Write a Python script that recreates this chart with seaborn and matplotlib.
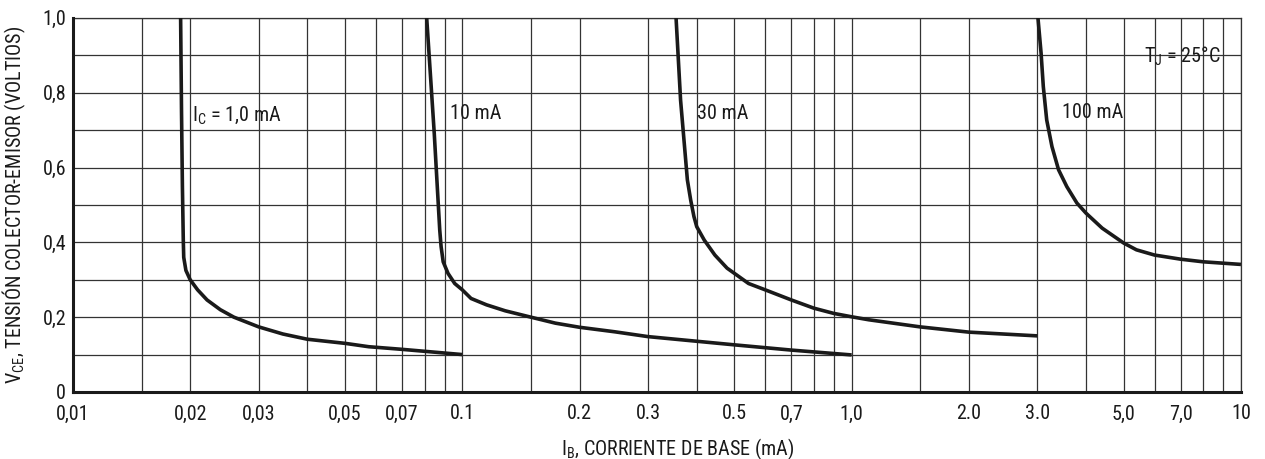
import numpy as np
import pandas as pd
import matplotlib
matplotlib.use("Agg")
import matplotlib.pyplot as plt
from matplotlib import font_manager
from matplotlib.ticker import FixedLocator, FixedFormatter, NullFormatter
import seaborn as sns

# ---- data ----
ib_1mA = [0.0189, 0.0190, 0.0191, 0.0192, 0.01925, 0.0195, 0.0200, 0.0209, 0.0221, 0.0239,
          0.0259, 0.030, 0.0346, 0.040, 0.050, 0.0575, 0.070, 0.100]
vce_1mA = [1.00, 0.75, 0.55, 0.406, 0.360, 0.325, 0.300, 0.273, 0.246, 0.220,
           0.200, 0.174, 0.155, 0.141, 0.130, 0.121, 0.114, 0.100]

ib_10mA = [0.0810, 0.0847, 0.0875, 0.0882, 0.0893, 0.0919, 0.0956, 0.100, 0.1053, 0.1154,
           0.1289, 0.150, 0.1734, 0.200, 0.246, 0.300, 0.500, 0.700, 1.000]
vce_10mA = [1.00, 0.692, 0.433, 0.389, 0.348, 0.317, 0.290, 0.273, 0.250, 0.233,
            0.217, 0.200, 0.184, 0.173, 0.161, 0.148, 0.126, 0.112, 0.099]

ib_30mA = [0.354, 0.3636, 0.3785, 0.386, 0.3935, 0.400, 0.4183, 0.4454, 0.4787, 0.500,
           0.5435, 0.600, 0.700, 0.800, 0.900, 1.00, 1.107, 1.50, 2.00, 3.00]
vce_30mA = [1.00, 0.780, 0.567, 0.513, 0.469, 0.442, 0.406, 0.366, 0.331, 0.317,
            0.290, 0.273, 0.246, 0.224, 0.210, 0.201, 0.193, 0.174, 0.160, 0.150]

ib_100mA = [3.01, 3.066, 3.107, 3.17, 3.27, 3.40, 3.57, 3.79, 4.00, 4.40,
            5.00, 5.39, 6.00, 7.00, 8.00, 10.0]
vce_100mA = [1.00, 0.906, 0.816, 0.727, 0.656, 0.594, 0.549, 0.505, 0.478, 0.438,
             0.398, 0.380, 0.366, 0.355, 0.348, 0.341]

x_major = [0.01, 0.02, 0.03, 0.05, 0.07, 0.1, 0.2, 0.3, 0.5, 0.7, 1.0, 2.0, 3.0, 5.0, 7.0, 10.0]
x_labels = ["0,01", "0,02", "0,03", "0,05", "0,07", "0.1", "0.2", "0.3", "0.5", "0,7",
            "1,0", "2.0", "3.0", "5,0", "7,0", "10"]
x_minor = [0.015, 0.04, 0.06, 0.08, 0.09, 0.15, 0.4, 0.6, 0.8, 0.9, 1.5, 4.0, 6.0, 8.0, 9.0]
y_major = [0.0, 0.2, 0.4, 0.6, 0.8, 1.0]
y_labels = ["0", "0,2", "0,4", "0,6", "0,8", "1,0"]
y_minor = [0.1, 0.3, 0.5, 0.7, 0.9]

curve_labels = ["I$_\\mathregular{C}$ = 1,0 mA", "10 mA", "30 mA", "100 mA"]
curve_label_x = [0.0202, 0.093, 0.40, 3.48]
curve_label_y = [0.74, 0.745, 0.745, 0.747]

# ---- style ----
sns.set_theme(style="white")
available = {f.name for f in font_manager.fontManager.ttflist}
family = [f for f in ["Liberation Sans Narrow", "Roboto Condensed", "Liberation Sans", "DejaVu Sans"] if f in available]
plt.rcParams["font.family"] = family + ["DejaVu Sans"]
plt.rcParams["mathtext.default"] = "regular"

FS = 14.5
INK = "#1a1a1a"

frames = []
for name, xs, ys in [("1", ib_1mA, vce_1mA), ("10", ib_10mA, vce_10mA),
                     ("30", ib_30mA, vce_30mA), ("100", ib_100mA, vce_100mA)]:
    frames.append(pd.DataFrame({"ib": xs, "vce": ys, "ic": name}))
df = pd.concat(frames, ignore_index=True)

fig = plt.figure(figsize=(12.65, 4.59), dpi=100)
ax = fig.add_axes([0.0577, 0.146, 0.9233, 0.815])

sns.lineplot(data=df, x="ib", y="vce", units="ic", estimator=None, sort=False,
             color=INK, linewidth=2.6, ax=ax, legend=False, zorder=3)
for line in ax.get_lines():
    line.set_solid_joinstyle("round")
    line.set_solid_capstyle("butt")

ax.set_xscale("log")
ax.set_xlim(0.01, 10)
ax.set_ylim(0, 1.0)

ax.xaxis.set_major_locator(FixedLocator(x_major))
ax.xaxis.set_major_formatter(FixedFormatter(x_labels))
ax.xaxis.set_minor_locator(FixedLocator(x_minor))
ax.xaxis.set_minor_formatter(NullFormatter())
ax.yaxis.set_major_locator(FixedLocator(y_major))
ax.yaxis.set_major_formatter(FixedFormatter(y_labels))
ax.yaxis.set_minor_locator(FixedLocator(y_minor))

ax.grid(True, which="both", color="#333333", linewidth=0.9)
ax.tick_params(which="both", length=0, labelsize=FS, colors=INK)
ax.tick_params(axis="x", pad=9)
ax.tick_params(axis="y", pad=5)

for s in ["top", "right"]:
    ax.spines[s].set_color("#333333")
    ax.spines[s].set_linewidth(0.9)
for s in ["left", "bottom"]:
    ax.spines[s].set_color(INK)
    ax.spines[s].set_linewidth(2.2)
    ax.spines[s].set_zorder(4)

for t, x, y in zip(curve_labels, curve_label_x, curve_label_y):
    ax.text(x, y, t, fontsize=FS, color=INK, va="center", ha="left", zorder=5)
ax.text(5.65, 0.897, "T$_\\mathregular{J}$ = 25°C", fontsize=FS, color=INK,
        va="center", ha="left", zorder=5)

ax.set_xlabel("I$_\\mathregular{B}$, CORRIENTE DE BASE (mA)", fontsize=FS, color=INK)
ax.xaxis.set_label_coords(0.518, -0.118)
ax.set_ylabel("V$_\\mathregular{CE}$, TENSIÓN COLECTOR-EMISOR (VOLTIOS)", fontsize=FS,
              color=INK, labelpad=10)

fig.savefig("out.png", dpi=100)
